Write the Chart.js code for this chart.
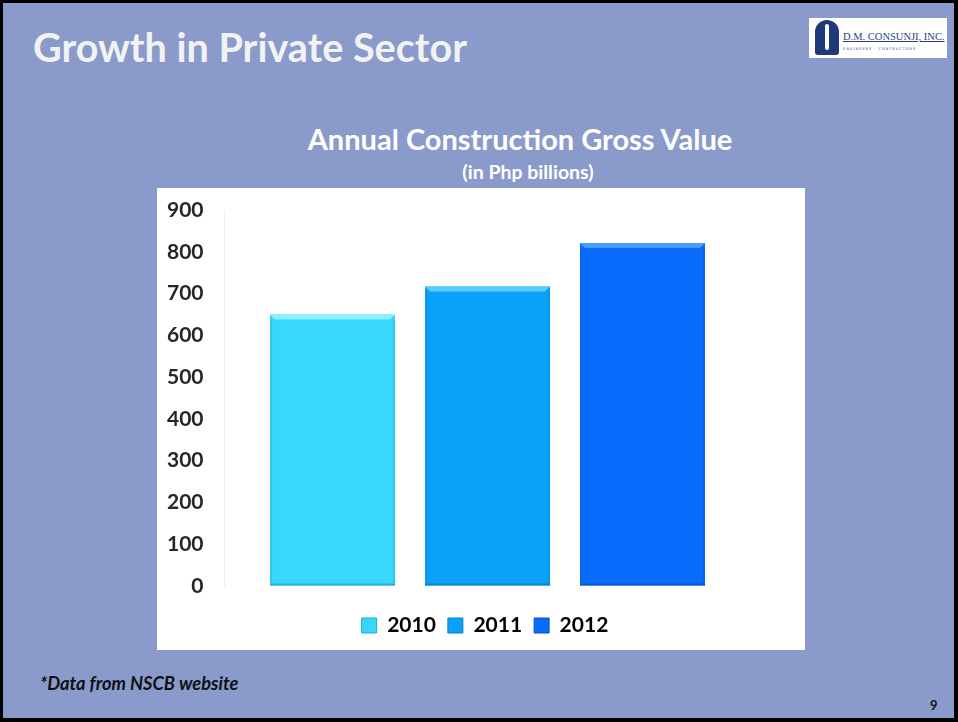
<!DOCTYPE html>
<html>
<head>
<meta charset="utf-8">
<script src="https://cdn.jsdelivr.net/npm/chart.js@4.4.1/dist/chart.umd.min.js"></script>
<style>
  html, body { margin: 0; padding: 0; }
  body {
    width: 958px; height: 722px; position: relative; overflow: hidden;
    background: #000;
    font-family: Lato, 'Open Sans', sans-serif;
  }
  #slide {
    position: absolute; left: 3px; top: 3px; width: 951px; height: 715px;
    background: #8A9BCB;
  }
  .abs { position: absolute; white-space: nowrap; }
  #title { left: 30px; top: 20px; font-size: 39.6px; font-weight: 700; color: #F2F2F2; }
  #ctitle { left: 0; width: 1034px; text-align: center; top: 118px; font-size: 29px; font-weight: 700; color: #FFFFFF; }
  #csub { left: 0; width: 1050px; text-align: center; top: 157px; font-size: 19.5px; font-weight: 700; color: #FFFFFF; }
  #note { left: 37px; top: 669px; font-size: 18.3px; font-weight: 700; font-style: italic; color: #111; }
  #page { left: 927px; top: 694px; font-size: 13px; font-weight: 700; color: #111; }
  #logo { position: absolute; left: 806px; top: 15px; width: 138px; height: 40px; background: #fff; }
  #emblem { position: absolute; left: 6px; top: 2px; width: 24px; height: 35px; background: #1F3A7A; border-radius: 12px 12px 3px 3px; }
  #emblem::after { content: ''; position: absolute; left: 10px; top: 4px; width: 4px; height: 26px; background: #fff; border-radius: 2px; }
  #logotext { position: absolute; left: 34px; top: 13px; font-family: 'Liberation Serif', serif; font-size: 10.5px; color: #2A3F7E; text-decoration: underline; }
  #logosub { position: absolute; left: 34px; top: 29px; font-family: 'DejaVu Sans', sans-serif; font-size: 3.5px; letter-spacing: 1px; color: #2A3F7E; }
  #box { position: absolute; left: 154px; top: 185px; width: 648px; height: 462px; background: #fff; }
</style>
</head>
<body>
<div id="slide">
  <div id="title" class="abs">Growth in Private Sector</div>
  <div id="logo">
    <div id="emblem"></div>
    <div id="logotext">D.M. CONSUNJI, INC.</div>
    <div id="logosub">ENGINEERS · CONTRACTORS</div>
  </div>
  <div id="ctitle" class="abs">Annual Construction Gross Value</div>
  <div id="csub" class="abs">(in Php billions)</div>
  <div id="box"><canvas id="chart" width="648" height="462"></canvas></div>
  <div id="note" class="abs">*Data from NSCB website</div>
  <div id="page" class="abs">9</div>
</div>
<script>
// values (Php billions)
const categories = ['Annual Construction Gross Value'];
const years = ['2010', '2011', '2012'];
const values2010 = [650];
const values2011 = [717];
const values2012 = [821];
const yTicks = [0, 100, 200, 300, 400, 500, 600, 700, 800, 900];

const barColors = ['#38D7FE', '#0AA2F8', '#0A6CFC'];
const edgeColors = ['#22A9CF', '#0780C8', '#0553C8'];
const lightColors = ['#8AEFFF', '#5CCBFF', '#4C9CFF'];

// little bevel on each bar, like the office 3D bar style
const bevel = {
  id: 'bevel',
  afterDatasetsDraw(chart) {
    const ctx = chart.ctx;
    chart.data.datasets.forEach((ds, i) => {
      const meta = chart.getDatasetMeta(i);
      meta.data.forEach(bar => {
        const l = bar.x - bar.width / 2;
        const r = bar.x + bar.width / 2;
        const t = bar.y;
        const b = bar.base;
        const d = 5;
        ctx.save();
        ctx.fillStyle = lightColors[i];
        ctx.beginPath();
        ctx.moveTo(l, t); ctx.lineTo(r, t); ctx.lineTo(r - d, t + d); ctx.lineTo(l + d, t + d);
        ctx.closePath(); ctx.fill();
        ctx.globalAlpha = 0.35;
        ctx.fillStyle = edgeColors[i];
        ctx.fillRect(l, t + d, 2, b - t - d);
        ctx.fillRect(r - 2, t + d, 2, b - t - d);
        ctx.globalAlpha = 0.8;
        ctx.fillRect(l, b - 2, r - l, 2);
        ctx.restore();
      });
    });
  }
};

new Chart(document.getElementById('chart'), {
  type: 'bar',
  data: {
    labels: categories,
    datasets: [
      { label: years[0], data: values2010, backgroundColor: barColors[0], borderWidth: 0 },
      { label: years[1], data: values2011, backgroundColor: barColors[1], borderWidth: 0 },
      { label: years[2], data: values2012, backgroundColor: barColors[2], borderWidth: 0 },
    ]
  },
  options: {
    responsive: false,
    animation: false,
    categoryPercentage: 0.884,
    barPercentage: 0.806,
    layout: { padding: { left: 8, right: 0, top: 22, bottom: 4 } },
    plugins: {
      legend: {
        position: 'bottom',
        labels: {
          color: '#262626',
          font: { family: 'Lato', size: 21, weight: 'bold' },
          boxWidth: 15,
          boxHeight: 15,
          padding: 12,
          generateLabels: (chart) => chart.data.datasets.map((ds, i) => ({
            text: ds.label,
            fillStyle: barColors[i],
            strokeStyle: edgeColors[i],
            lineWidth: 1,
            datasetIndex: i,
          }))
        }
      },
      tooltip: { enabled: false },
    },
    scales: {
      x: {
        display: true,
        grid: { display: false, drawTicks: false },
        border: { display: false },
        ticks: { display: false },
        afterFit: (axis) => { axis.height = 17; },
      },
      y: {
        min: 0,
        max: 900,
        afterBuildTicks: (axis) => { axis.ticks = yTicks.map(v => ({ value: v })); },
        afterFit: (axis) => { axis.width = 59.5; },
        // invisible tick marks make the gap between labels and the axis line
        grid: { display: true, drawOnChartArea: false, drawTicks: true, tickLength: 21, color: 'rgba(0,0,0,0)' },
        border: { display: true, color: '#EEEEEE', width: 1 },
        ticks: {
          color: '#262626',
          padding: 0,
          font: { family: 'Lato', size: 21, weight: 'bold' },
        }
      },
      // empty right-hand axis, only keeps the plot clear of the right edge
      yRight: {
        type: 'linear',
        axis: 'y',
        position: 'right',
        display: true,
        grid: { display: false, drawTicks: false },
        border: { display: false },
        ticks: { display: false },
        afterFit: (axis) => { axis.width = 54.5; },
      }
    }
  },
  plugins: [bevel]
});
</script>
</body>
</html>
